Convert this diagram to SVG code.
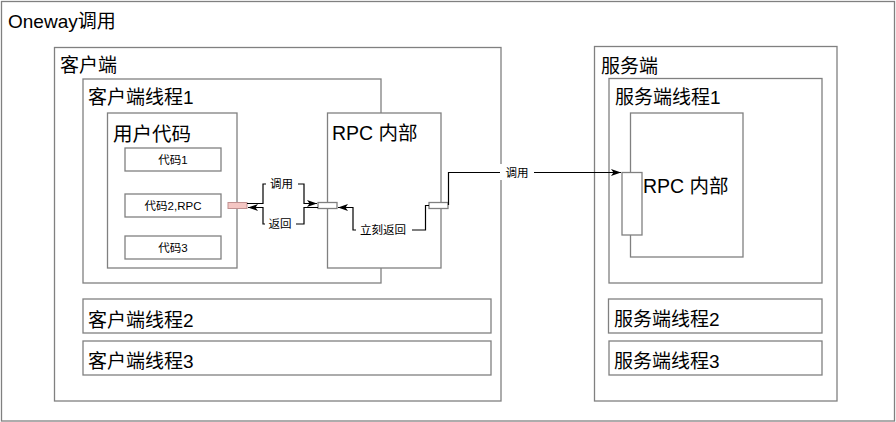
<svg xmlns="http://www.w3.org/2000/svg" width="896" height="422" viewBox="0 0 896 422">
<style>
  .box{fill:#ffffff;stroke:#808080;stroke-width:1.3}
  .t{font-family:"Liberation Sans","Noto Sans CJK SC",sans-serif;fill:#000}
  .big{font-size:19px}
  .mid{font-size:19.5px}
  .sm{font-size:11.5px;text-anchor:middle}
  .edge{fill:none;stroke:#000;stroke-width:1.2}
  .lbg{fill:#fff;stroke:none}
</style>
<defs>
  <marker id="arr" markerUnits="userSpaceOnUse" markerWidth="11" markerHeight="8" refX="10" refY="3.5" orient="auto">
    <path d="M0,0 L10,3.5 L0,7 L2.5,3.5 Z" fill="#000"/>
  </marker>
</defs>
<rect width="896" height="422" fill="#fff"/>
<g id="frame">
  <rect class="box" x="1.5" y="1.5" width="893" height="419.5"/>
  <text class="t big" x="8" y="28">Oneway调用</text>
</g>
<g id="client">
  <rect class="box" x="54.5" y="47.5" width="446.5" height="353.5"/>
  <text class="t big" x="60" y="72">客户端</text>
</g>
<g id="client-thread1">
  <rect class="box" x="83" y="79" width="298" height="204"/>
  <text class="t big" x="88" y="104">客户端线程1</text>
</g>
<g id="user-code">
  <rect class="box" x="107.5" y="113" width="129.5" height="155"/>
  <text class="t mid" x="113" y="141">用户代码</text>
</g>
<g id="code1">
  <rect class="box" x="125" y="148" width="96" height="23"/>
  <text class="t sm" x="173" y="163.5">代码1</text>
</g>
<g id="code2">
  <rect class="box" x="125" y="194" width="96" height="23"/>
  <text class="t sm" x="173" y="209.5">代码2,RPC</text>
</g>
<g id="code3">
  <rect class="box" x="125" y="236" width="96" height="23"/>
  <text class="t sm" x="173" y="251.5">代码3</text>
</g>
<g id="pink-port">
  <rect x="228" y="202.5" width="19" height="6" fill="#f4c6c3" stroke="#c09090" stroke-width="1"/>
</g>
<g id="client-rpc">
  <rect class="box" x="327.5" y="113" width="113.5" height="155"/>
  <text class="t mid" x="332" y="140">RPC 内部</text>
</g>
<g id="client-rpc-in">
  <rect class="box" x="318" y="202.5" width="19" height="6"/>
</g>
<g id="client-rpc-out">
  <rect class="box" x="429" y="202.5" width="19" height="6"/>
</g>
<g id="client-thread2">
  <rect class="box" x="83" y="299" width="408" height="34"/>
  <text class="t big" x="88" y="327">客户端线程2</text>
</g>
<g id="client-thread3">
  <rect class="box" x="83" y="341" width="408" height="34"/>
  <text class="t big" x="88" y="368">客户端线程3</text>
</g>
<g id="server">
  <rect class="box" x="594.5" y="46.5" width="242.5" height="354.5"/>
  <text class="t big" x="601" y="73">服务端</text>
</g>
<g id="server-thread1">
  <rect class="box" x="609" y="78.5" width="213" height="204.5"/>
  <text class="t big" x="615" y="104">服务端线程1</text>
</g>
<g id="server-rpc">
  <rect class="box" x="630.5" y="113" width="112.5" height="144"/>
  <text class="t mid" x="643" y="193">RPC 内部</text>
</g>
<g id="server-rpc-in">
  <rect class="box" x="622" y="172.5" width="20" height="62.5"/>
</g>
<g id="server-thread2">
  <rect class="box" x="608.5" y="299" width="213.5" height="34"/>
  <text class="t big" x="614" y="326">服务端线程2</text>
</g>
<g id="server-thread3">
  <rect class="box" x="609" y="341" width="213" height="34"/>
  <text class="t big" x="614" y="368">服务端线程3</text>
</g>
<g id="connectors">
  <polyline class="edge" points="247,203.5 263,203.5 263,184 304,184 304,203.5 317,203.5" marker-end="url(#arr)"/>
  <rect class="lbg" x="266" y="176" width="32" height="16"/>
  <text class="t sm" x="281.5" y="188">调用</text>

  <polyline class="edge" points="318,207.5 304,207.5 304,224 263,224 263,207.5 248,207.5" marker-end="url(#arr)"/>
  <rect class="lbg" x="265" y="216" width="31" height="16"/>
  <text class="t sm" x="280" y="228">返回</text>

  <polyline class="edge" points="429,205.5 425.5,205.5 425.5,230 353,230 353,207.5 338,207.5" marker-end="url(#arr)"/>
  <rect class="lbg" x="356" y="222" width="56" height="16"/>
  <text class="t sm" x="383" y="234">立刻返回</text>

  <polyline class="edge" points="448.5,205 448.5,172.5 621,172.5" marker-end="url(#arr)"/>
  <rect class="lbg" x="500" y="164" width="34" height="16"/>
  <text class="t sm" x="517" y="176.5">调用</text>
</g>
</svg>
